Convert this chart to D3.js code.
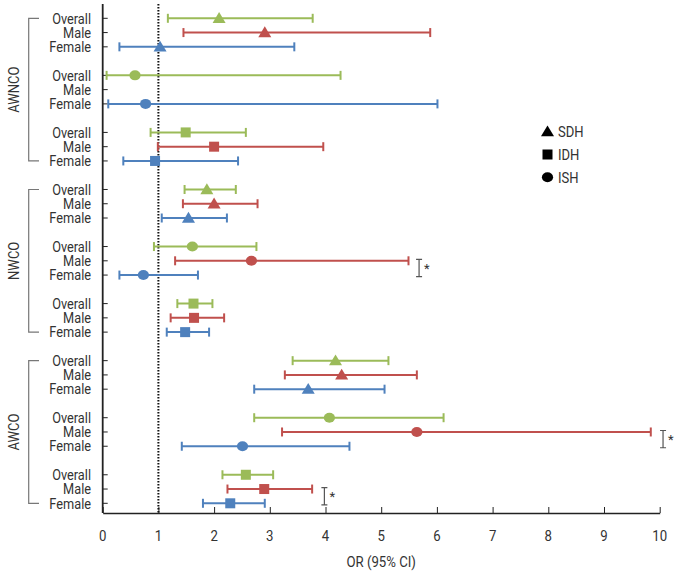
<!DOCTYPE html>
<html><head><meta charset="utf-8">
<script src="https://cdn.jsdelivr.net/npm/d3@7"></script>
<style>
body{margin:0;background:#fff;}
svg{display:block;}
text{font-family:Roboto,"Noto Sans",sans-serif;fill:#333;}
</style></head>
<body><svg id="c" width="679" height="574"></svg>
<script>
const groups = ["AWNCO","NWCO","AWCO"];
const types = ["SDH","ISH","IDH"];
const sexes = ["Overall","Male","Female"];
const legendItems = ["SDH","IDH","ISH"];
const xTicks = [0,1,2,3,4,5,6,7,8,9,10];
const refValue = 1;
// rows in order: group > type > sex
const orVals = [2.09,2.91,1.03, 0.58,null,0.77, 1.49,2.00,0.94,
                1.87,2.00,1.54, 1.61,2.67,0.73, 1.63,1.64,1.48,
                4.18,4.29,3.69, 4.07,5.64,2.51, 2.57,2.90,2.29];
const loVals = [1.17,1.45,0.30, 0.07,null,0.10, 0.86,0.99,0.37,
                1.47,1.44,1.06, 0.92,1.30,0.30, 1.34,1.22,1.15,
                3.41,3.27,2.72, 2.72,3.22,1.42, 2.15,2.24,1.80];
const hiVals = [3.77,5.88,3.44, 4.27,null,6.01, 2.57,3.96,2.43,
                2.39,2.78,2.23, 2.76,5.49,1.71, 1.97,2.18,1.91,
                5.13,5.64,5.06, 6.12,9.84,4.43, 3.06,3.76,2.91];
// significance markers: group, type, x position (OR units)
const sigGroups = ["NWCO","AWCO","AWCO"];
const sigTypes = ["ISH","ISH","IDH"];
const sigX = [5.68,10.06,3.98];

const colors = {Overall:"#9bbb59", Male:"#c0504d", Female:"#4f81bd"};

const svg = d3.select("#c");
const x = d3.scaleLinear().domain([0,10]).range([102.7,659.7]);
const nSlots = groups.length*types.length*4 - 1;
const y = d3.scaleLinear().domain([0,nSlots-1]).range([18.3,503.3]);
const axisY = 513;
const axisTop = 4;

const rows = [];
let idx = 0;
groups.forEach((g,gi)=>types.forEach((t,ti)=>sexes.forEach((s,si)=>{
  const slot = (gi*3+ti)*4+si;
  rows.push({g,t,s,slot,or:orVals[idx],lo:loVals[idx],hi:hiVals[idx]});
  idx++;
})));

// condensed text helper
function ctext(px,py,str,opts){
  const o = Object.assign({size:15,anchor:"start",sx:0.86,rot:0,fill:"#333",dy:"0"},opts||{});
  const g = svg.append("g").attr("transform",`translate(${px},${py}) rotate(${o.rot}) scale(${o.sx},1)`);
  return g.append("text").attr("text-anchor",o.anchor).attr("font-size",o.size).attr("dy",o.dy)
    .attr("fill",o.fill).text(str);
}

// x axis
const xAxis = d3.axisBottom(x).tickValues(xTicks).tickSizeInner(-6).tickSizeOuter(0).tickFormat("");
const gx = svg.append("g").attr("transform",`translate(0,${axisY})`).call(xAxis);
gx.select(".domain").attr("stroke","#222").attr("stroke-width",1.6);
gx.selectAll(".tick line").attr("stroke","#222").attr("stroke-width",1);
xTicks.forEach(v=>ctext(x(v),540.5,String(v),{anchor:"middle",size:15,sx:0.88}));
ctext((x(0)+x(10))/2,567,"OR (95% CI)",{anchor:"middle",size:15,sx:0.88});

// y axis line
svg.append("line").attr("x1",x(0)).attr("x2",x(0)).attr("y1",axisTop).attr("y2",axisY)
  .attr("stroke","#222").attr("stroke-width",1.8);
// reference dotted line
svg.append("line").attr("x1",x(refValue)).attr("x2",x(refValue)).attr("y1",axisTop).attr("y2",axisY)
  .attr("stroke","#111").attr("stroke-width",2).attr("stroke-dasharray","1.5,1.5");

// row ticks & labels
rows.forEach(r=>{
  svg.append("line").attr("x1",x(0)).attr("x2",x(0)+5).attr("y1",y(r.slot)).attr("y2",y(r.slot))
    .attr("stroke","#222").attr("stroke-width",1);
  ctext(91,y(r.slot),r.s,{anchor:"end",size:14.5,dy:"0.36em",sx:0.88});
});

// group brackets and labels
groups.forEach((g,gi)=>{
  const top = y(gi*12), bot = y(gi*12+10), mid = y(gi*12+5);
  svg.append("path").attr("d",`M39,${top}H28.7V${bot}H39`).attr("fill","none")
    .attr("stroke","#777").attr("stroke-width",1.2);
  ctext(18.5,mid,g,{anchor:"middle",size:15.5,rot:-90,sx:0.84});
});

// error bars
const capH = 4.5;
rows.filter(r=>r.or!=null).forEach(r=>{
  const c = colors[r.s], yy = y(r.slot);
  const g = svg.append("g").attr("stroke",c).attr("stroke-width",2);
  g.append("line").attr("x1",x(r.lo)).attr("x2",x(r.hi)).attr("y1",yy).attr("y2",yy);
  g.append("line").attr("x1",x(r.lo)).attr("x2",x(r.lo)).attr("y1",yy-capH).attr("y2",yy+capH);
  g.append("line").attr("x1",x(r.hi)).attr("x2",x(r.hi)).attr("y1",yy-capH).attr("y2",yy+capH);
});

function marker(sel,type,cx,cy,color){
  if(type==="SDH"){
    const s=6.2;
    sel.append("path").attr("d",`M${cx},${cy-s}L${cx+s*1.05},${cy+s*0.75}L${cx-s*1.05},${cy+s*0.75}Z`).attr("fill",color);
  } else if(type==="IDH"){
    const s=10;
    sel.append("rect").attr("x",cx-s/2).attr("y",cy-s/2).attr("width",s).attr("height",s).attr("fill",color);
  } else {
    sel.append("ellipse").attr("cx",cx).attr("cy",cy).attr("rx",5.6).attr("ry",5).attr("fill",color);
  }
}
rows.filter(r=>r.or!=null).forEach(r=>marker(svg,r.t,x(r.or),y(r.slot),colors[r.s]));

// significance brackets
sigX.forEach((v,i)=>{
  const gi = groups.indexOf(sigGroups[i]), ti = types.indexOf(sigTypes[i]);
  const y1 = y((gi*3+ti)*4+1)-1.5, y2 = y((gi*3+ti)*4+2)+1.5, xx = x(v);
  svg.append("path").attr("d",`M${xx-3},${y1}H${xx+3}M${xx},${y1}V${y2}M${xx-3},${y2}H${xx+3}`)
    .attr("stroke","#555").attr("stroke-width",1.2).attr("fill","none");
  svg.append("text").attr("x",xx+5).attr("y",(y1+y2)/2+5).attr("font-size",13).attr("fill","#444").text("*");
});

// legend
legendItems.forEach((t,i)=>{
  const ly = 131.7 + i*22.8;
  marker(svg,t,547.5,ly,"#000");
  ctext(558,ly,t,{size:14.5,dy:"0.36em",sx:0.9,fill:"#222"});
});
</script></body></html>
